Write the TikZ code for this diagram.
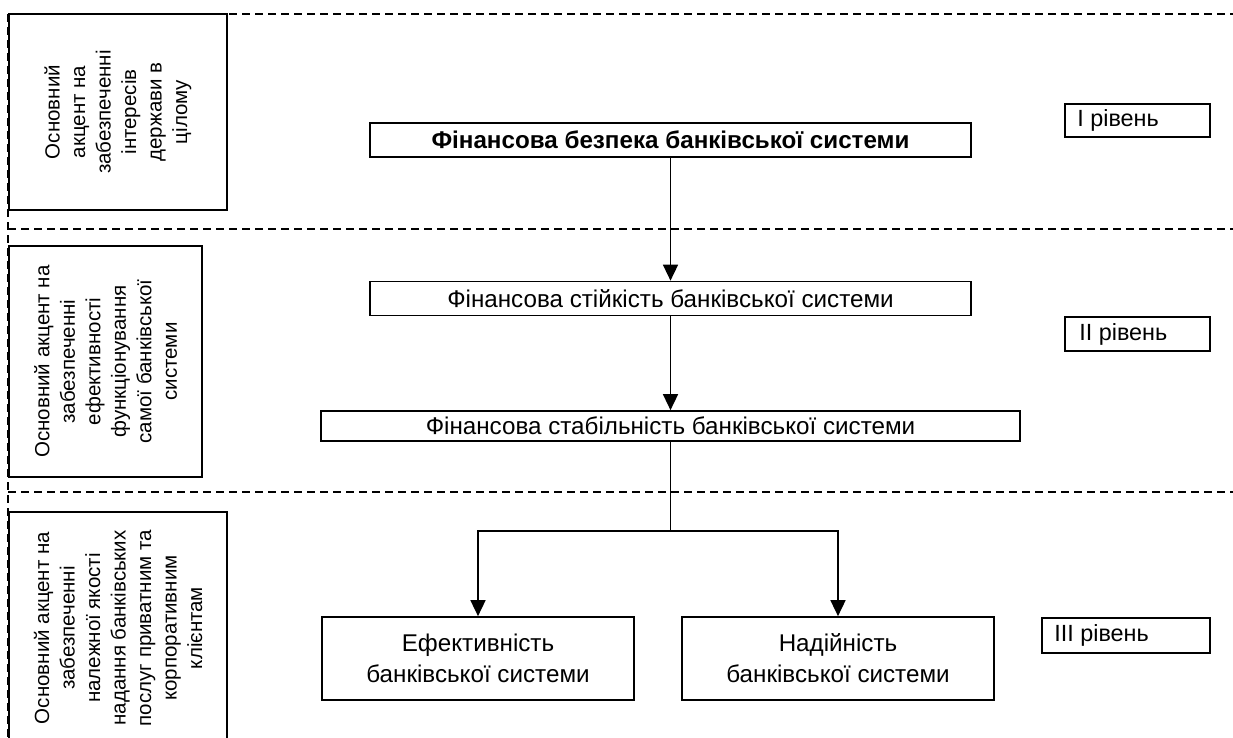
\documentclass[tikz,border=0pt]{standalone}
\usepackage{fontspec}
\setmainfont{Liberation Sans}
\usetikzlibrary{arrows.meta}
\tikzset{
  box/.style={draw, line width=1.7pt, inner sep=0pt, align=center, fill=white},
  sidebox/.style={draw, line width=1.8pt, inner sep=0pt},
  sidetext/.style={rotate=90, align=center, inner sep=0pt, font=\fontsize{20.5}{25.5}\selectfont},
  maintext/.style={font=\fontsize{24.2}{31}\selectfont},
  lvltext/.style={inner sep=0pt, anchor=west, font=\fontsize{23.4}{26}\selectfont},
  sep/.style={line width=2pt, dash pattern=on 8pt off 5pt},
  conn/.style={line width=1.6pt},
  arr/.style={line width=1.6pt, -{Triangle[length=16pt,width=15pt]}}
}
\begin{document}
\begin{tikzpicture}[x=1pt,y=-1pt]
\useasboundingbox (0,0) rectangle (1233,737);
% separators
\draw[sep] (8,14) coordinate (s0) -- (1233,14);
\draw[sep] (8,229) -- (1233,229);
\draw[sep] (8,492) -- (1233,492);
\draw[sep] (s0) -- (8,737);
% side boxes
\node[sidebox, minimum width=218pt, minimum height=196pt] (L1) at (118,112) {};
\node[sidetext] (T1) at (L1.center) {Основний\\акцент на\\забезпеченні\\інтересів\\держави в\\цілому};
\node[sidebox, minimum width=193pt, minimum height=231pt] (L2) at (105.5,361.5) {};
\node[sidetext] (T2) at (L2.center) {Основний акцент на\\забезпеченні\\ефективності\\функціонування\\самої банківської\\системи};
\node[sidebox, minimum width=218pt, minimum height=232pt] (L3) at (118,628) {};
\node[sidetext] (T3) at (L3.center) {Основний акцент на\\забезпеченні\\належної якості\\надання банківських\\послуг приватним та\\корпоративним\\клієнтам};
% main boxes
\node[box, maintext, minimum width=601pt, minimum height=34pt] (A) at (670.5,140) {\bfseries Фінансова безпека банківської системи};
\node[box, maintext, minimum width=601pt, minimum height=34pt] (B) at (670.5,298.5) {Фінансова стійкість банківської системи};
\node[box, maintext, minimum width=699pt, minimum height=30pt] (C) at (670.5,426) {Фінансова стабільність банківської системи};
\node[box, maintext, minimum width=312pt, minimum height=83pt] (D) at (478,658.5) {Ефективність\\банківської системи};
\node[box, maintext, minimum width=312pt, minimum height=83pt] (E) at (838,658.5) {Надійність\\банківської системи};
% level boxes
\node[sidebox, minimum width=145pt, minimum height=33pt] (V1) at (1137.5,120.5) {};
\node[lvltext] at ([xshift=13pt]V1.west) {I рівень};
\node[sidebox, minimum width=145pt, minimum height=34pt] (V2) at (1137.5,334) {};
\node[lvltext] at ([xshift=15pt]V2.west) {II рівень};
\node[sidebox, minimum width=168pt, minimum height=35pt] (V3) at (1126,635.5) {};
\node[lvltext] at ([xshift=13pt]V3.west) {III рівень};
% connectors
\draw[arr] (A.south) -- (B.north);
\draw[arr] (B.south) -- (C.north);
\draw[conn] (C.south) -- ++(0,89) coordinate (J);
\draw[arr] (J) -| (D.north);
\draw[arr] (J) -| (E.north);
\end{tikzpicture}
\end{document}
